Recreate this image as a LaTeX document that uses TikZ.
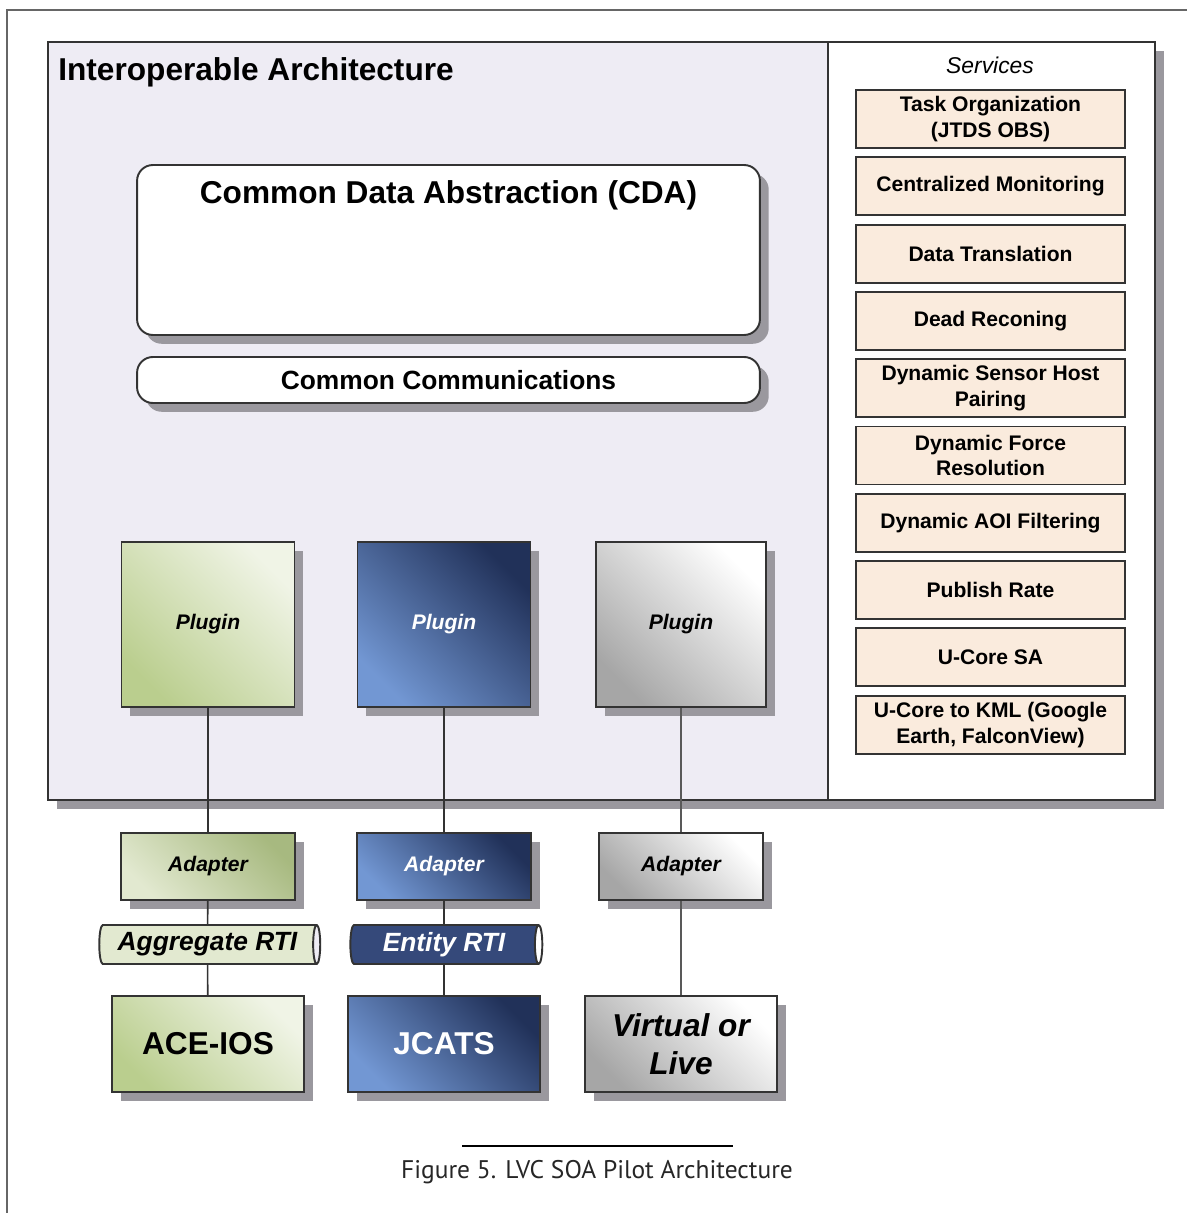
\documentclass[tikz,border=0pt]{standalone}
\usepackage{fontspec}
\setmainfont{Liberation Sans}
\newfontfamily\capfont{PT Sans}
\usetikzlibrary{shapes.geometric,shadows}

\definecolor{panelfill}{HTML}{EEECF4}
\definecolor{shade}{HTML}{9A989E}
\definecolor{edge}{HTML}{333333}
\definecolor{peach}{HTML}{FAEBDD}
\definecolor{grnA}{HTML}{BACE8E}
\definecolor{grnB}{HTML}{E2E9D0}
\definecolor{grnC}{HTML}{F0F4E6}
\definecolor{bluA}{HTML}{7297D3}
\definecolor{bluB}{HTML}{35497A}
\definecolor{bluC}{HTML}{213159}
\definecolor{gryA}{HTML}{A6A6A6}
\definecolor{gryB}{HTML}{EDEDED}

\begin{document}
\begin{tikzpicture}[x=0.02cm,y=-0.02cm,
    every node/.style={inner sep=0pt, text=black},
    box/.style={draw=edge, line width=1.1pt, rectangle,
      drop shadow={shadow xshift=5pt, shadow yshift=-5pt, fill=shade, opacity=1}},
    green/.style={box, left color=grnA, middle color=grnB, right color=grnC, shading angle=135},
    greenadp/.style={box, left color=grnB, middle color=grnA, right color=grnA!90!black, shading angle=135},
    blue/.style={box, left color=bluA, middle color=bluB, right color=bluC, shading angle=135, text=white},
    grey/.style={box, left color=gryA, middle color=gryB, right color=white, shading angle=135},
    plugin/.style={minimum width=3.46cm, minimum height=3.3cm, font=\fontsize{12}{14}\selectfont\bfseries\itshape},
    adapter/.style={minimum height=1.34cm, font=\fontsize{12}{14}\selectfont\bfseries\itshape},
    sim/.style={minimum width=3.84cm, minimum height=1.92cm, align=center},
    rti/.style={cylinder, draw=edge, line width=1.1pt, shape aspect=0.3, minimum width=0.78cm,
      cylinder uses custom fill, font=\fontsize{15}{17}\selectfont\bfseries\itshape},
    svcbox/.style={draw=edge, line width=1.1pt, fill=peach, minimum width=5.38cm, minimum height=1.16cm,
      align=center, font=\fontsize{12}{14.7}\selectfont\bfseries},
    wire/.style={draw=edge, line width=0.9pt}]
  \useasboundingbox (0,0) rectangle (1187,1213);
  \draw[gray!80!black, line width=0.9pt] (7,1213) -- (7,10) -- (1187,10);

  % panels
  \node[box, fill=panelfill, minimum width=15.6cm, minimum height=15.16cm] (arch) at (438,421) {};
  \node[box, fill=white, minimum width=6.54cm, minimum height=15.16cm] (svc) at (991.5,421) {};
  \node[anchor=west, font=\fontsize{18}{20}\selectfont\bfseries] (archtitle) at (58,72) {Interoperable Architecture};
  \node[font=\fontsize{13}{15}\selectfont\itshape] (svctitle) at (990,65) {Services};

  \node[box, fill=white, rounded corners=9pt, minimum width=12.46cm, minimum height=3.4cm,
    label={[anchor=north, yshift=-0.33cm, font=\fontsize{18}{20}\selectfont\bfseries]north:Common Data Abstraction (CDA)}] (cda) at (448.5,250) {};
  \node[box, fill=white, rounded corners=9pt, minimum width=12.46cm, minimum height=0.92cm,
    font=\fontsize{15}{17}\selectfont\bfseries] (comms) at (448.5,380) {Common Communications};

  % services
  \foreach \t [count=\i from 0] in {{Task Organization\\(JTDS OBS)}, {Centralized Monitoring}, {Data Translation},
      {Dead Reconing}, {Dynamic Sensor Host\\Pairing}, {Dynamic Force\\Resolution}, {Dynamic AOI Filtering},
      {Publish Rate}, {U-Core SA}, {U-Core to KML (Google\\Earth, FalconView)}}
    \node[svcbox] (s\i) at (990.5,{119+67.3*\i}) {\t};

  % plugins
  \node[green, plugin] (p1) at (208,624.5) {Plugin};
  \node[blue, plugin] (p2) at (444,624.5) {Plugin};
  \node[grey, plugin, minimum width=3.4cm] (p3) at (681,624.5) {Plugin};

  % adapters
  \node[greenadp, adapter, minimum width=3.48cm] (a1) at (208,866.5) {Adapter};
  \node[blue, adapter, minimum width=3.48cm] (a2) at (444,866.5) {Adapter};
  \node[grey, adapter, minimum width=3.28cm] (a3) at (681,866.5) {Adapter};

  % RTIs
  \node[rti, minimum height=4.42cm, cylinder body fill=grnB, cylinder end fill=panelfill] (r1) at (207.5,944.5) {Aggregate RTI};
  \node[rti, minimum height=3.84cm, cylinder body fill=bluB, cylinder end fill=white, text=white] (r2) at (444,944.5) {Entity RTI};

  % simulations
  \node[green, sim, font=\fontsize{18}{20}\selectfont\bfseries] (b1) at (208,1044) {ACE-IOS};
  \node[blue, sim, font=\fontsize{18}{20}\selectfont\bfseries] (b2) at (444,1044) {JCATS};
  \node[grey, sim, font=\fontsize{18}{21.5}\selectfont\bfseries\itshape] (b3) at (681,1044) {Virtual or\\Live};

  \draw[wire] (p1) -- (a1) -- (r1) -- (b1);
  \draw[wire] (p2) -- (a2) -- (r2) -- (b2);
  \draw[wire, draw=gray!70!black, line width=1.1pt] (p3) -- (a3) -- (b3);

  % caption
  \coordinate (rl) at (462,1146);
  \coordinate (rr) at (733,1146);
  \draw[line width=0.6pt] (rl) -- (rr);
  \node[font=\capfont\fontsize{14.5}{17}\selectfont, text=black!85] (cap) at (597,1172) {Figure 5. LVC SOA Pilot Architecture};
\end{tikzpicture}
\end{document}
